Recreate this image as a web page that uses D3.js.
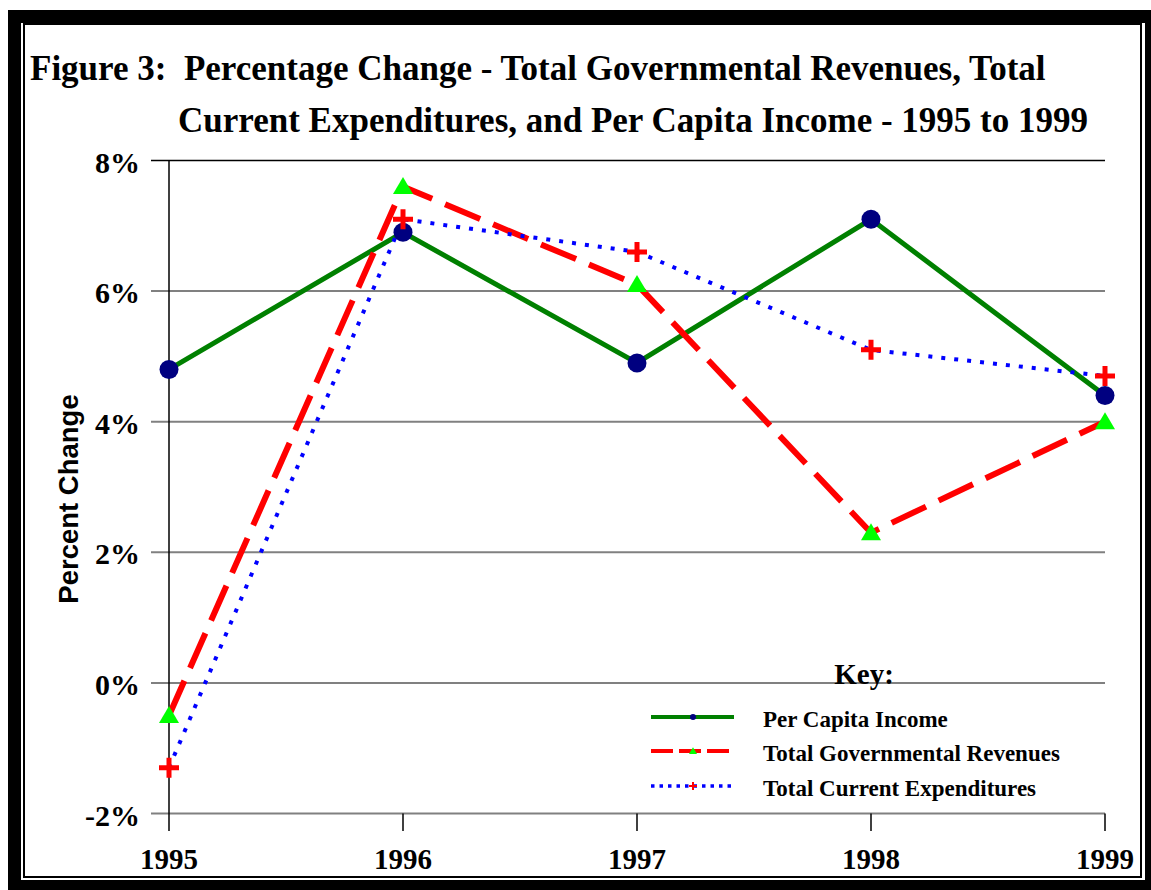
<!DOCTYPE html>
<html lang="en">
<head>
<meta charset="utf-8">
<title>Figure 3</title>
<script src="https://cdn.jsdelivr.net/npm/d3@7"></script>
<style>
  body { margin: 0; background: white; }
  text { font-family: "Liberation Serif", "Times New Roman", serif; font-weight: bold; }
</style>
</head>
<body>
<script>
// data
var years = [1995, 1996, 1997, 1998, 1999];
var perCapitaIncome = [4.8, 6.9, 4.9, 7.1, 4.4];
var govRevenues = [-0.5, 7.6, 6.1, 2.3, 4.0];
var currentExpenditures = [-1.3, 7.1, 6.6, 5.1, 4.7];
var yTicks = [-2, 0, 2, 4, 6, 8];
var seriesNames = ["Per Capita Income", "Total Governmental Revenues", "Total Current Expenditures"];

var W = 1151, H = 890;
var svg = d3.select("body").append("svg")
  .attr("width", W)
  .attr("height", H);

// double frame
svg.append("rect").attr("x", 14.5).attr("y", 16.5).attr("width", 1137).attr("height", 870)
  .attr("fill", "none").attr("stroke", "black").attr("stroke-width", 13);
svg.append("rect").attr("x", 24).attr("y", 24).attr("width", 1117).attr("height", 853)
  .attr("fill", "none").attr("stroke", "black").attr("stroke-width", 2);

// title
svg.append("text").attr("x", 30).attr("y", 80).attr("font-size", 35)
  .text("Figure 3:\u00a0\u00a0Percentage Change - Total Governmental Revenues, Total");
svg.append("text").attr("x", 178).attr("y", 132).attr("font-size", 35)
  .text("Current Expenditures, and Per Capita Income - 1995 to 1999");

var x = d3.scalePoint().domain(years).range([169, 1105]);
var y = d3.scaleLinear().domain([-2, 8]).range([813.5, 160.5]);

// gridlines
svg.append("g").selectAll("line").data(yTicks).join("line")
  .attr("x1", 151).attr("x2", 1105)
  .attr("y1", d => y(d)).attr("y2", d => y(d))
  .attr("stroke", d => d == 8 ? "black" : "#808080")
  .attr("stroke-width", d => d == 8 ? 1.5 : 2);

// y axis line
svg.append("line").attr("x1", 169).attr("x2", 169).attr("y1", y(8)).attr("y2", 831)
  .attr("stroke", "black").attr("stroke-width", 1.5);

// x ticks
svg.append("g").selectAll("line").data(years.slice(1)).join("line")
  .attr("x1", d => x(d)).attr("x2", d => x(d))
  .attr("y1", y(-2)).attr("y2", 831)
  .attr("stroke", "black").attr("stroke-width", 1.5);

// y tick labels
svg.append("g").selectAll("text").data(yTicks).join("text")
  .attr("x", 140).attr("y", d => y(d) + 12)
  .attr("text-anchor", "end").attr("font-size", 30)
  .text(d => d + "%");

// x tick labels
svg.append("g").selectAll("text").data(years).join("text")
  .attr("x", d => x(d)).attr("y", 869)
  .attr("text-anchor", "middle").attr("font-size", 29)
  .text(d => d);

// y title
svg.append("text")
  .attr("transform", "translate(78,499) rotate(-90)")
  .attr("text-anchor", "middle")
  .style("font-family", "'Liberation Sans', Arial, sans-serif")
  .attr("font-size", 27.5)
  .text("Percent Change");

function circleMark(g, cx, cy, r) {
  g.append("circle").attr("cx", cx).attr("cy", cy).attr("r", r).attr("fill", "#000080");
}
function triMark(g, cx, cy, s) {
  g.append("path")
    .attr("d", "M" + cx + "," + (cy - s * 0.95) + "L" + (cx + s) + "," + (cy + s * 0.75) + "L" + (cx - s) + "," + (cy + s * 0.75) + "Z")
    .attr("fill", "#00ff00");
}
function plusMark(g, cx, cy, s, w) {
  g.append("path")
    .attr("d", "M" + (cx - s) + "," + cy + "H" + (cx + s) + "M" + cx + "," + (cy - s) + "V" + (cy + s))
    .attr("stroke", "red").attr("stroke-width", w).attr("fill", "none");
}

var series = [
  { values: perCapitaIncome, color: "green", dash: null, width: 5, mark: (g, a, b) => circleMark(g, a, b, 9.5) },
  { values: govRevenues, color: "red", dash: "38,14", width: 6, mark: (g, a, b) => triMark(g, a, b, 10) },
  { values: currentExpenditures, color: "blue", dash: "4,9", width: 4, mark: (g, a, b) => plusMark(g, a, b, 10, 5) }
];

var line = d3.line().x((d, i) => x(years[i])).y(d => y(d));

var plot = svg.append("g");
series.forEach(function (s) {
  plot.append("path").datum(s.values)
    .attr("d", line)
    .attr("fill", "none")
    .attr("stroke", s.color)
    .attr("stroke-width", s.width)
    .attr("stroke-dasharray", s.dash);
});
series.forEach(function (s) {
  s.values.forEach(function (v, i) { s.mark(plot, x(years[i]), y(v)); });
});

// key
svg.append("text").attr("x", 864).attr("y", 684).attr("text-anchor", "middle")
  .attr("font-size", 29).text("Key:");

var legY = [717, 751, 786];
var smallMarks = [
  (g, a, b) => circleMark(g, a, b, 3),
  (g, a, b) => triMark(g, a, b, 4),
  (g, a, b) => plusMark(g, a, b, 4, 2)
];
series.forEach(function (s, i) {
  var g = svg.append("g");
  g.append("line").attr("x1", 651).attr("x2", 734).attr("y1", legY[i]).attr("y2", legY[i])
    .attr("stroke", s.color).attr("stroke-width", i == 2 ? 3.5 : 4)
    .attr("stroke-dasharray", i == 1 ? "22,6" : (i == 2 ? "3.5,5" : null));
  smallMarks[i](g, 693, legY[i]);
  g.append("text").attr("x", 763).attr("y", legY[i] + 9.5).attr("font-size", 23)
    .text(seriesNames[i]);
});
</script>
</body>
</html>
